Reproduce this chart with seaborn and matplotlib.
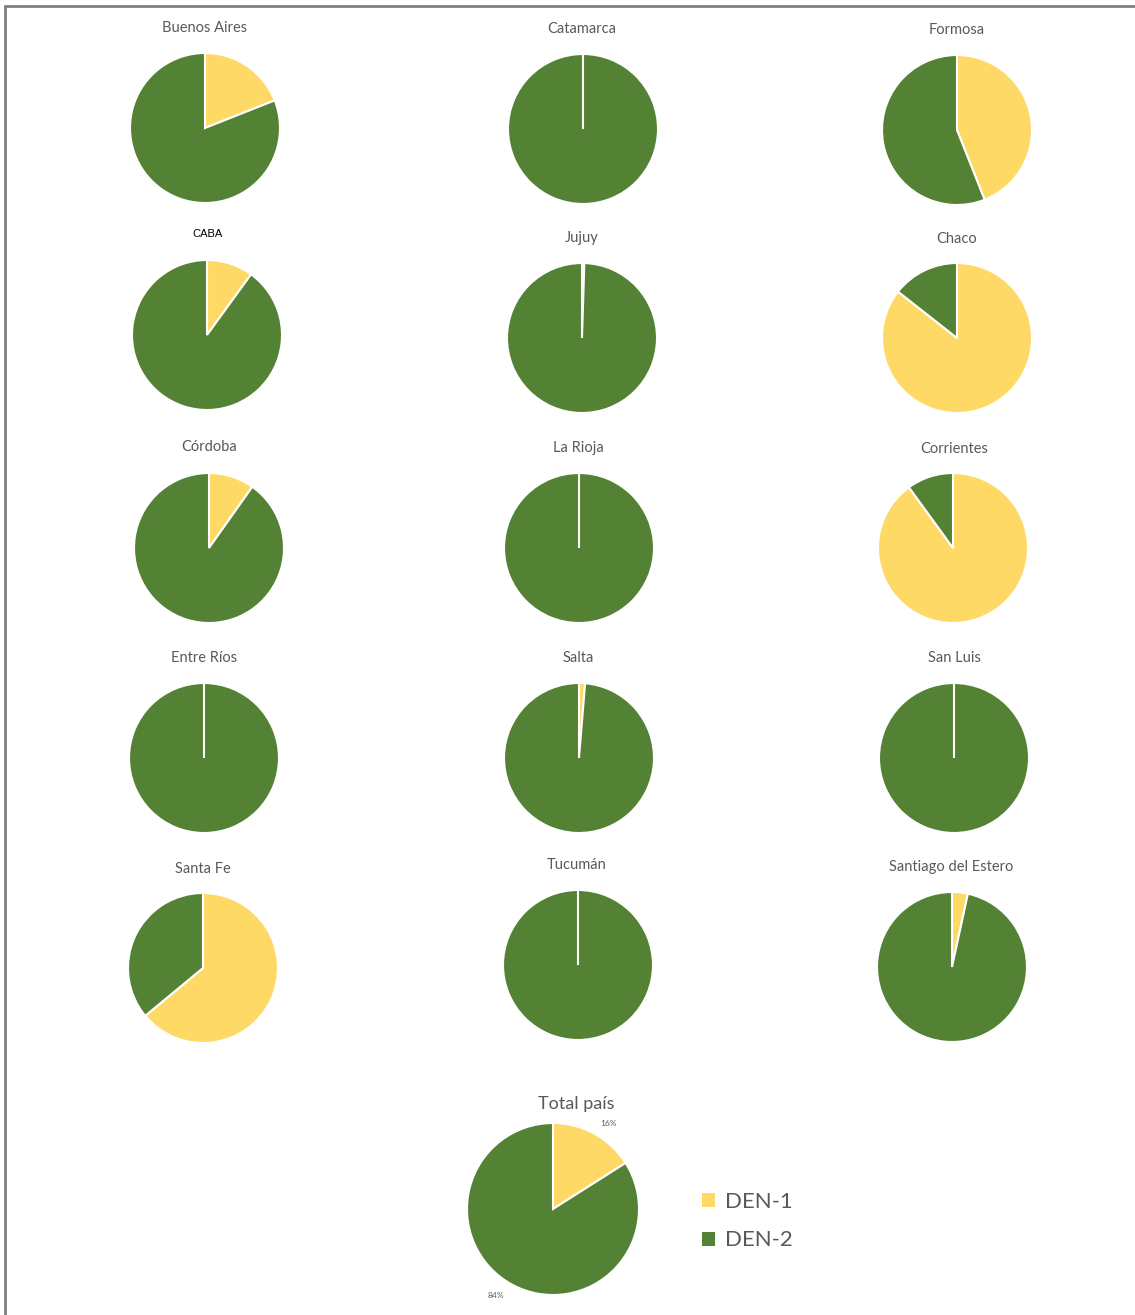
import matplotlib
matplotlib.use("Agg")
import numpy as np
import matplotlib.pyplot as plt
from matplotlib.lines import Line2D
from matplotlib.patches import Patch
import seaborn as sns

sns.set_theme(style="white")
plt.rcParams["font.family"] = ["Lato", "DejaVu Sans"]

# Serotype share (%) by province
provinces = ["Buenos Aires", "Catamarca", "Formosa",
             "CABA", "Jujuy", "Chaco",
             "Córdoba", "La Rioja", "Corrientes",
             "Entre Ríos", "Salta", "San Luis",
             "Santa Fe", "Tucumán", "Santiago del Estero"]
den1 = [19, 0, 44, 10, 0.5, 85.6, 9.8, 0, 90, 0, 1.3, 0, 64, 0, 3.4]
den2 = [81, 100, 56, 90, 99.5, 14.4, 90.2, 100, 10, 100, 98.7, 100, 36, 100, 96.6]

total_labels = ["DEN-1", "DEN-2"]
total_values = [16, 84]

colors = ["#FFD966", "#548235"]

W, H = 1135, 1315
fig = plt.figure(figsize=(W / 100, H / 100), dpi=100)
fig.patch.set_facecolor("white")

# pie centres (px) and title positions
centers = [(205, 128), (583, 129), (957, 130),
           (207, 335), (582, 338), (957, 338),
           (209, 548), (579, 548), (953, 548),
           (204, 758), (579, 758), (954, 758),
           (203, 968), (578, 965), (952, 967)]
title_y = [28, 29, 30, 234, 238, 239, 447, 448, 449, 658, 658, 658, 869, 865, 867]
title_x = [205, 582, 957, 207, 582, 957, 209, 578, 954, 204, 578, 954, 203, 577, 951]


def pie_axes(cx, cy, r):
    ax = fig.add_axes([(cx - r) / W, 1 - (cy + r) / H, 2 * r / W, 2 * r / H])
    ax.set_xlim(-1, 1)
    ax.set_ylim(-1, 1)
    ax.set_aspect("equal")
    ax.axis("off")
    return ax


def draw_pie(ax, values):
    wedges, _ = ax.pie(values, colors=colors, startangle=90, counterclock=False, radius=1,
                       wedgeprops=dict(edgecolor="white", linewidth=1.5))
    # a zero-sized slice still shows its separating edge
    for w, v in zip(wedges, values):
        if v == 0:
            t = np.deg2rad(w.theta1)
            ax.plot([0, np.cos(t)], [0, np.sin(t)], color="white", linewidth=1.5,
                    solid_capstyle="butt")
    ax.set_xlim(-1, 1)
    ax.set_ylim(-1, 1)


R = 75
for name, a, b, (cx, cy), tx, ty in zip(provinces, den1, den2, centers, title_x, title_y):
    ax = pie_axes(cx, cy, R)
    draw_pie(ax, [a, b])
    if name == "CABA":
        fig.text(tx / W, 1 - ty / H, name, ha="center", va="center",
                 fontsize=8, color="black", family=["Liberation Sans", "DejaVu Sans"])
    else:
        fig.text(tx / W, 1 - ty / H, name, ha="center", va="center",
                 fontsize=10.5, color="#595959")

# national total
ax = pie_axes(553, 1209, 86)
draw_pie(ax, total_values)
fig.text(576 / W, 1 - 1104 / H, "Total país", ha="center", va="center",
         fontsize=13, color="#595959")
fig.text(609 / W, 1 - 1123 / H, f"{total_values[0]}%", ha="center", va="center",
         fontsize=6, color="#595959")
fig.text(496 / W, 1 - 1296 / H, f"{total_values[1]}%", ha="center", va="center",
         fontsize=6, color="#595959")

handles = [Patch(facecolor=c, edgecolor="none", label=l) for c, l in zip(colors, total_labels)]
fig.legend(handles=handles, loc="center left", bbox_to_anchor=(682 / W, 1 - 1221 / H),
           frameon=False, fontsize=16, labelcolor="#595959", handlelength=0.6,
           handleheight=0.6, handletextpad=0.45, labelspacing=0.85)

# outer frame (top and left edges)
fig.add_artist(Line2D([5 / W, 5 / W], [0, 1 - 6 / H], transform=fig.transFigure,
                      color="#808080", linewidth=2))
fig.add_artist(Line2D([5 / W, 1], [1 - 6 / H, 1 - 6 / H], transform=fig.transFigure,
                      color="#808080", linewidth=2))

fig.savefig("out.png", dpi=100, facecolor="white")
